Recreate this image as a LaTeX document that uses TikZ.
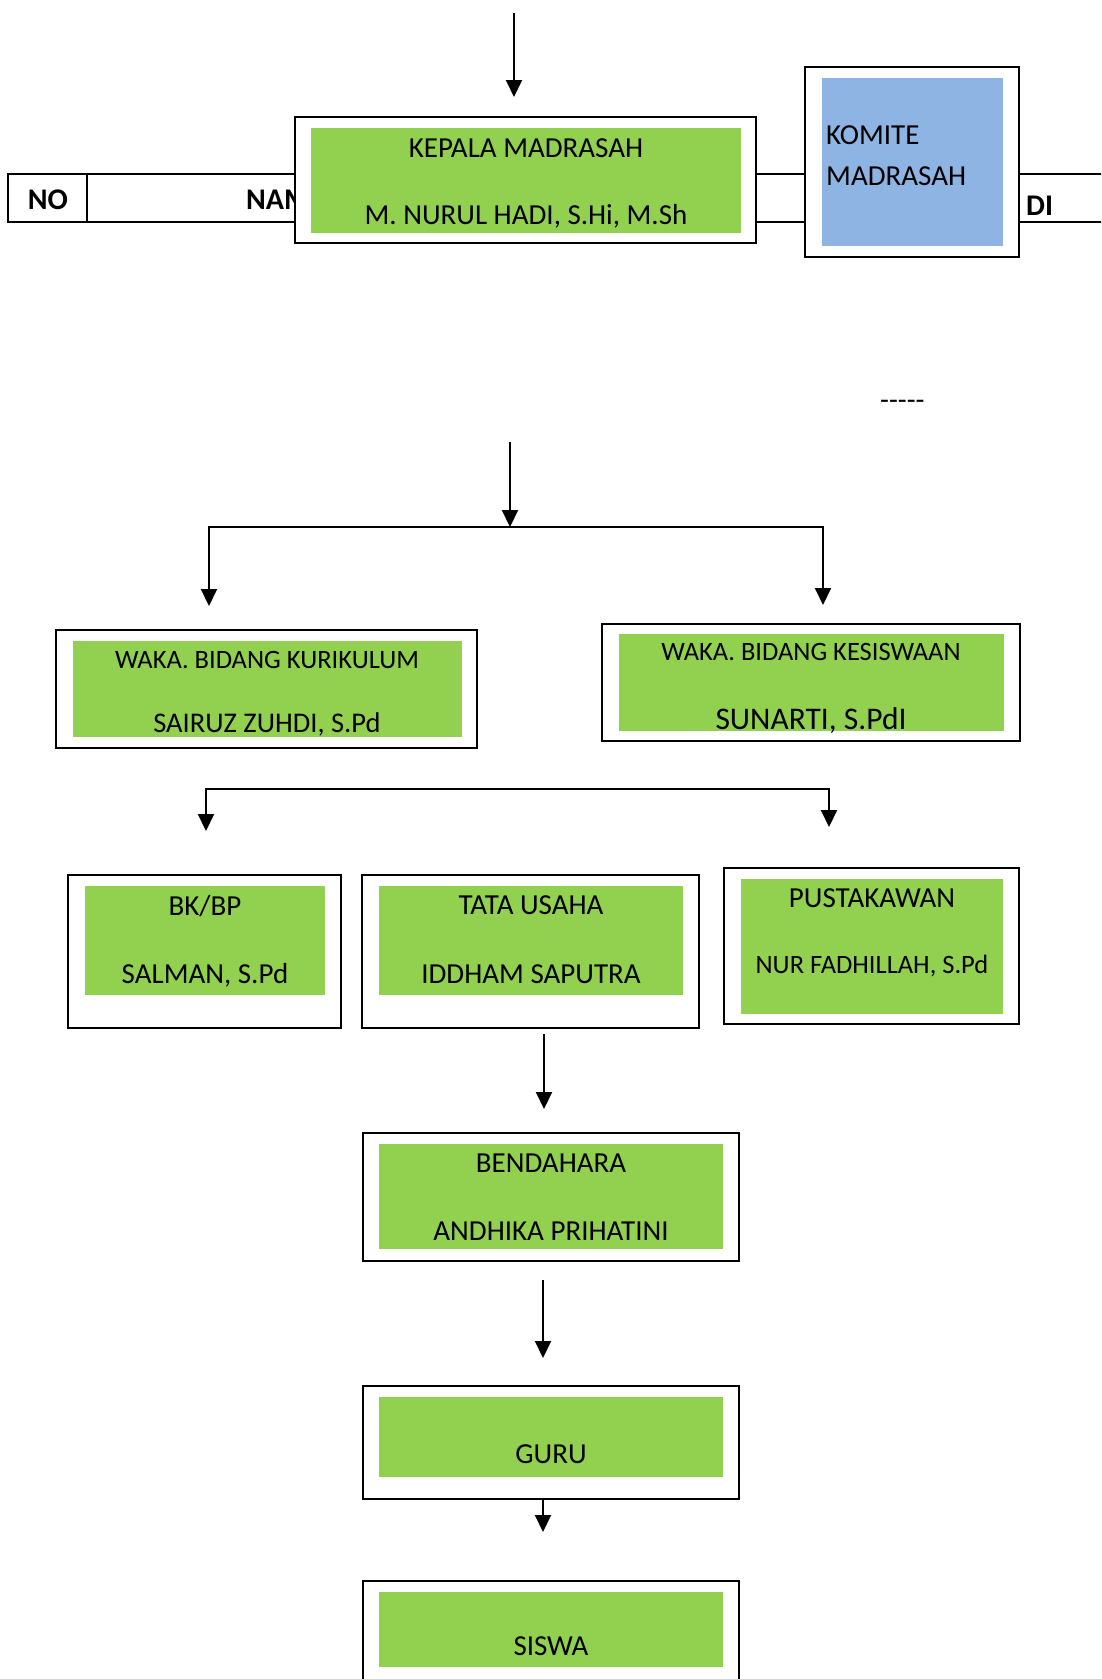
\documentclass[tikz,border=0pt]{standalone}
\usepackage{fontspec}
\setmainfont{Carlito}
\usepackage{tikz}
\usetikzlibrary{arrows.meta,fit}
\definecolor{leaf}{HTML}{92D050}
\definecolor{sky}{HTML}{8EB4E3}

\begin{document}
\begin{tikzpicture}[x=1pt,y=-1pt, >={Triangle[length=17pt,width=16pt]},
  frame/.style={draw,line width=1.6pt,fill=white,inner sep=0pt},
  panel/.style={fill=leaf,inner sep=0pt},
  txt/.style={anchor=base,inner sep=0pt,font=\fontsize{29}{34}\selectfont},
  smalltxt/.style={txt,font=\fontsize{26.5}{31}\selectfont},
  head/.style={anchor=base,inner sep=0pt,font=\bfseries\fontsize{30}{36}\selectfont},
  link/.style={line width=2pt}]
\clip (0,0) rectangle (1101,1679);
% table row behind the top boxes
\draw[line width=1.6pt] (1110,174) -| (8,222) -- (1110,222);
\draw[line width=1.6pt] (87,174) -- (87,222);
\node[head] (no) at (48,209) {NO};
\node[head,anchor=base west] (nama) at (246,209) {NAMA};
\node[head,anchor=base west] (di) at (1026,215) {DI};
% kepala and komite
\node[frame,fit={(295,117)(756,243)}] (kepala) {};
\node[panel,fit={(311,128)(741,233)}] (kepalaIn) {};
\node[txt] (kepalaT) at (526,157) {KEPALA MADRASAH};
\node[txt] (kepalaN) at (526,224) {M. NURUL HADI, S.Hi, M.Sh};
\node[frame,fit={(805,67)(1019,257)}] (komite) {};
\node[panel,fill=sky,fit={(822,78)(1003,246)}] (komiteIn) {};
\node[txt,anchor=base west] (komiteT) at (826,144) {KOMITE};
\node[txt,anchor=base west] (komiteN) at (826,185) {MADRASAH};
\node[txt,anchor=base west] (dash) at (880,409) {-{}-{}-{}-{}-};
% waka
\node[frame,fit={(56,630)(477,748)}] (kur) {};
\node[panel,fit={(73,641)(462,737)}] (kurIn) {};
\node[smalltxt] (kurT) at (267,668) {WAKA. BIDANG KURIKULUM};
\node[txt,font=\fontsize{28.5}{34}\selectfont] (kurN) at (267,732) {SAIRUZ ZUHDI, S.Pd};
\node[frame,fit={(602,624)(1020,741)}] (kes) {};
\node[panel,fit={(619,634)(1004,731)}] (kesIn) {};
\node[smalltxt] (kesT) at (811,660) {WAKA. BIDANG KESISWAAN};
\node[txt,font=\fontsize{31.5}{37}\selectfont] (kesN) at (811,729) {SUNARTI, S.PdI};
% staf
\node[frame,fit={(68,875)(341,1028)}] (bk) {};
\node[panel,fit={(85,886)(325,995)}] (bkIn) {};
\node[txt] (bkT) at (205,915) {BK/BP};
\node[txt] (bkN) at (205,983) {SALMAN, S.Pd};
\node[frame,fit={(362,875)(699,1028)}] (tu) {};
\node[panel,fit={(379,886)(683,995)}] (tuIn) {};
\node[txt] (tuT) at (531,914) {TATA USAHA};
\node[txt] (tuN) at (531,983) {IDDHAM SAPUTRA};
\node[frame,fit={(724,868)(1019,1024)}] (pus) {};
\node[panel,fit={(741,879)(1003,1014)}] (pusIn) {};
\node[txt] (pusT) at (872,907) {PUSTAKAWAN};
\node[smalltxt] (pusN) at (872,973) {NUR FADHILLAH, S.Pd};
\node[frame,fit={(363,1133)(739,1261)}] (bend) {};
\node[panel,fit={(379,1144)(723,1249)}] (bendIn) {};
\node[txt] (bendT) at (551,1172) {BENDAHARA};
\node[txt] (bendN) at (551,1240) {ANDHIKA PRIHATINI};
\node[frame,fit={(363,1386)(739,1499)}] (guru) {};
\node[panel,fit={(379,1397)(723,1477)}] (guruIn) {};
\node[txt] (guruT) at (551,1463) {GURU};
\node[frame,fit={(363,1581)(739,1700)}] (siswa) {};
\node[panel,fit={(379,1592)(723,1667)}] (siswaIn) {};
\node[txt] (siswaT) at (551,1655) {SISWA};
% arrows
\coordinate (a0) at (514,13);   \coordinate (a1) at (514,97);
\coordinate (b0) at (510,442);  \coordinate (split1) at (510,527);
\coordinate (kurUp) at (209,606); \coordinate (kesUp) at (823,605);
\coordinate (split2) at (517,789);
\coordinate (bkUp) at (206,831); \coordinate (pusUp) at (829,827);
\coordinate (c0) at (544,1034); \coordinate (c1) at (544,1109);
\coordinate (d0) at (543,1280); \coordinate (d1) at (543,1358);
\coordinate (e0) at (543,1499); \coordinate (e1) at (543,1532);
\draw[link,->] (a0) -- (a1);
\draw[link,->] (b0) -- (split1);
\draw[link,->] (split1) -| (kurUp);
\draw[link,->] (split1) -| (kesUp);
\draw[link,->] (split2) -| (bkUp);
\draw[link,->] (split2) -| (pusUp);
\draw[link,->] (c0) -- (c1);
\draw[link,->] (d0) -- (d1);
\draw[link,->] (e0) -- (e1);
\end{tikzpicture}
\end{document}
